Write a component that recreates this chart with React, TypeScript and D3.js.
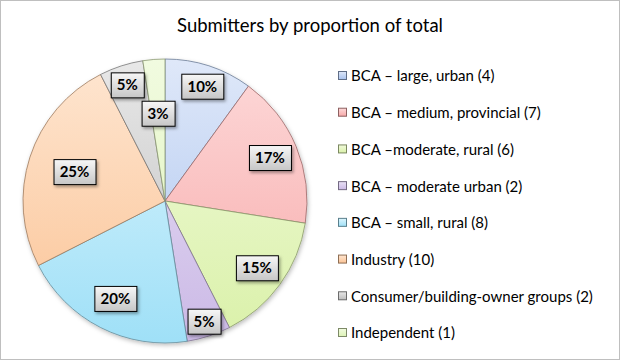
import React, { useRef, useEffect } from 'react';
import * as d3 from 'd3';

const categories = [
  'BCA – large, urban (4)',
  'BCA – medium, provincial (7)',
  'BCA –moderate, rural (6)',
  'BCA – moderate urban (2)',
  'BCA – small, rural (8)',
  'Industry (10)',
  'Consumer/building-owner groups (2)',
  'Independent (1)',
];
const counts = [4, 7, 6, 2, 8, 10, 2, 1];
const percentLabels = ['10%', '17%', '15%', '5%', '20%', '25%', '5%', '3%'];
// light top / deeper bottom of each slice gradient
const topColors = ['#dfe8f9', '#fdd9d9', '#f1fadc', '#e9e1f5', '#ddf5fd', '#fee6d1', '#e8e8e8', '#f1fbe0'];
const bottomColors = ['#a9c3ee', '#f7a9a9', '#daf1a9', '#cbb9e6', '#9fe0f7', '#fbc395', '#bdbdbd', '#ddf3b6'];
// where Excel's "best fit" put each label, as a fraction of the radius
const labelRadius = [0.85, 0.8, 0.8, 0.89, 0.77, 0.67, 0.86, 0.62];

export default function App() {
  const svgRef = useRef<SVGSVGElement>(null);
  const width = 621;
  const height = 361;
  const cx = 165;
  const cy = 201;
  const r = 142;

  useEffect(() => {
    const svg = d3.select(svgRef.current);
    svg.selectAll('*').remove();

    const defs = svg.append('defs');
    categories.forEach((c, i) => {
      // slice gradients live in the pie group's local coords
      const g = defs.append('linearGradient')
        .attr('id', `grad${i}`)
        .attr('gradientUnits', 'userSpaceOnUse')
        .attr('x1', 0).attr('y1', -r)
        .attr('x2', 0).attr('y2', r);
      g.append('stop').attr('offset', '0%').attr('stop-color', topColors[i]);
      g.append('stop').attr('offset', '100%').attr('stop-color', bottomColors[i]);

      const lg = defs.append('linearGradient')
        .attr('id', `leg${i}`).attr('x1', 0).attr('y1', 0).attr('x2', 0).attr('y2', 1);
      lg.append('stop').attr('offset', '0%').attr('stop-color', topColors[i]);
      lg.append('stop').attr('offset', '100%').attr('stop-color', bottomColors[i]);
    });
    const boxGrad = defs.append('linearGradient')
      .attr('id', 'boxGrad').attr('x1', 0).attr('y1', 0).attr('x2', 0).attr('y2', 1);
    boxGrad.append('stop').attr('offset', '0%').attr('stop-color', '#f7f7f7');
    boxGrad.append('stop').attr('offset', '100%').attr('stop-color', '#c6c6c6');

    const shadow = defs.append('filter').attr('id', 'shadow')
      .attr('x', '-20%').attr('y', '-20%').attr('width', '140%').attr('height', '140%');
    shadow.append('feDropShadow')
      .attr('dx', 1).attr('dy', 2).attr('stdDeviation', 2)
      .attr('flood-color', '#000').attr('flood-opacity', 0.25);

    const boxShadow = defs.append('filter').attr('id', 'boxShadow')
      .attr('x', '-30%').attr('y', '-30%').attr('width', '160%').attr('height', '170%');
    boxShadow.append('feDropShadow')
      .attr('dx', 1.5).attr('dy', 2).attr('stdDeviation', 1.5)
      .attr('flood-color', '#000').attr('flood-opacity', 0.35);

    // frame
    svg.append('rect')
      .attr('x', 0.5).attr('y', 0.5)
      .attr('width', width - 2).attr('height', height - 2)
      .attr('fill', '#fff')
      .attr('stroke', '#bfbfbf');

    // title
    svg.append('text')
      .attr('x', 310)
      .attr('y', 32)
      .attr('text-anchor', 'middle')
      .attr('font-family', 'Lato, sans-serif')
      .attr('font-size', 18.5)
      .attr('fill', '#000')
      .text('Submitters by proportion of total');

    const pie = d3.pie<number>().sort(null).value(d => d);
    const arcs = pie(counts);
    const arc = d3.arc<d3.PieArcDatum<number>>().innerRadius(0).outerRadius(r);

    const g = svg.append('g').attr('transform', `translate(${cx},${cy})`);
    g.append('g')
      .attr('filter', 'url(#shadow)')
      .selectAll('path')
      .data(arcs)
      .join('path')
      .attr('d', arc)
      .attr('fill', (d, i) => `url(#grad${i})`)
      .attr('stroke', (d, i) => d3.color(bottomColors[i])!.darker(1.3).formatHex())
      .attr('stroke-width', 0.8)
      .attr('stroke-linejoin', 'round');

    // data labels
    const labels = g.append('g')
      .selectAll('g')
      .data(arcs)
      .join('g')
      .attr('transform', (d, i) => {
        const a = (d.startAngle + d.endAngle) / 2;
        const lr = r * labelRadius[i];
        return `translate(${Math.sin(a) * lr},${-Math.cos(a) * lr})`;
      });
    const rects = labels.append('rect')
      .attr('fill', 'url(#boxGrad)')
      .attr('stroke', '#000')
      .attr('stroke-width', 1)
      .attr('filter', 'url(#boxShadow)');
    const texts = labels.append('text')
      .attr('text-anchor', 'middle')
      .attr('dy', '0.36em')
      .attr('font-family', 'Lato, sans-serif')
      .attr('font-weight', 'bold')
      .attr('font-size', 15)
      .attr('fill', '#000')
      .text((d, i) => percentLabels[i]);
    texts.each(function (d, i) {
      const w = (this as SVGTextElement).getComputedTextLength();
      const bw = Math.round(w + 12);
      const bh = 25;
      d3.select(rects.nodes()[i])
        .attr('x', -bw / 2 + 0.5)
        .attr('y', -bh / 2 + 0.5)
        .attr('width', bw)
        .attr('height', bh);
    });

    // legend
    const ly = d3.scalePoint<string>().domain(categories).range([76, 333]);
    const legend = svg.append('g')
      .selectAll('g')
      .data(categories)
      .join('g')
      .attr('transform', d => `translate(338,${ly(d)})`);
    legend.append('rect')
      .attr('x', 0.5).attr('y', -4.5)
      .attr('width', 8).attr('height', 8)
      .attr('fill', (d, i) => `url(#leg${i})`)
      .attr('stroke', (d, i) => d3.color(bottomColors[i])!.darker(1.6).formatHex())
      .attr('stroke-width', 1);
    legend.append('text')
      .attr('x', 13)
      .attr('dy', '0.36em')
      .attr('font-family', 'Lato, sans-serif')
      .attr('font-size', 15)
      .attr('fill', '#000')
      .text(d => d);
  }, []);

  return (
    <svg
      ref={svgRef}
      width={width}
      height={height}
      viewBox={`0 0 ${width} ${height}`}
      style={{ position: 'absolute', left: 0, top: 0, display: 'block' }}
    />
  );
}
